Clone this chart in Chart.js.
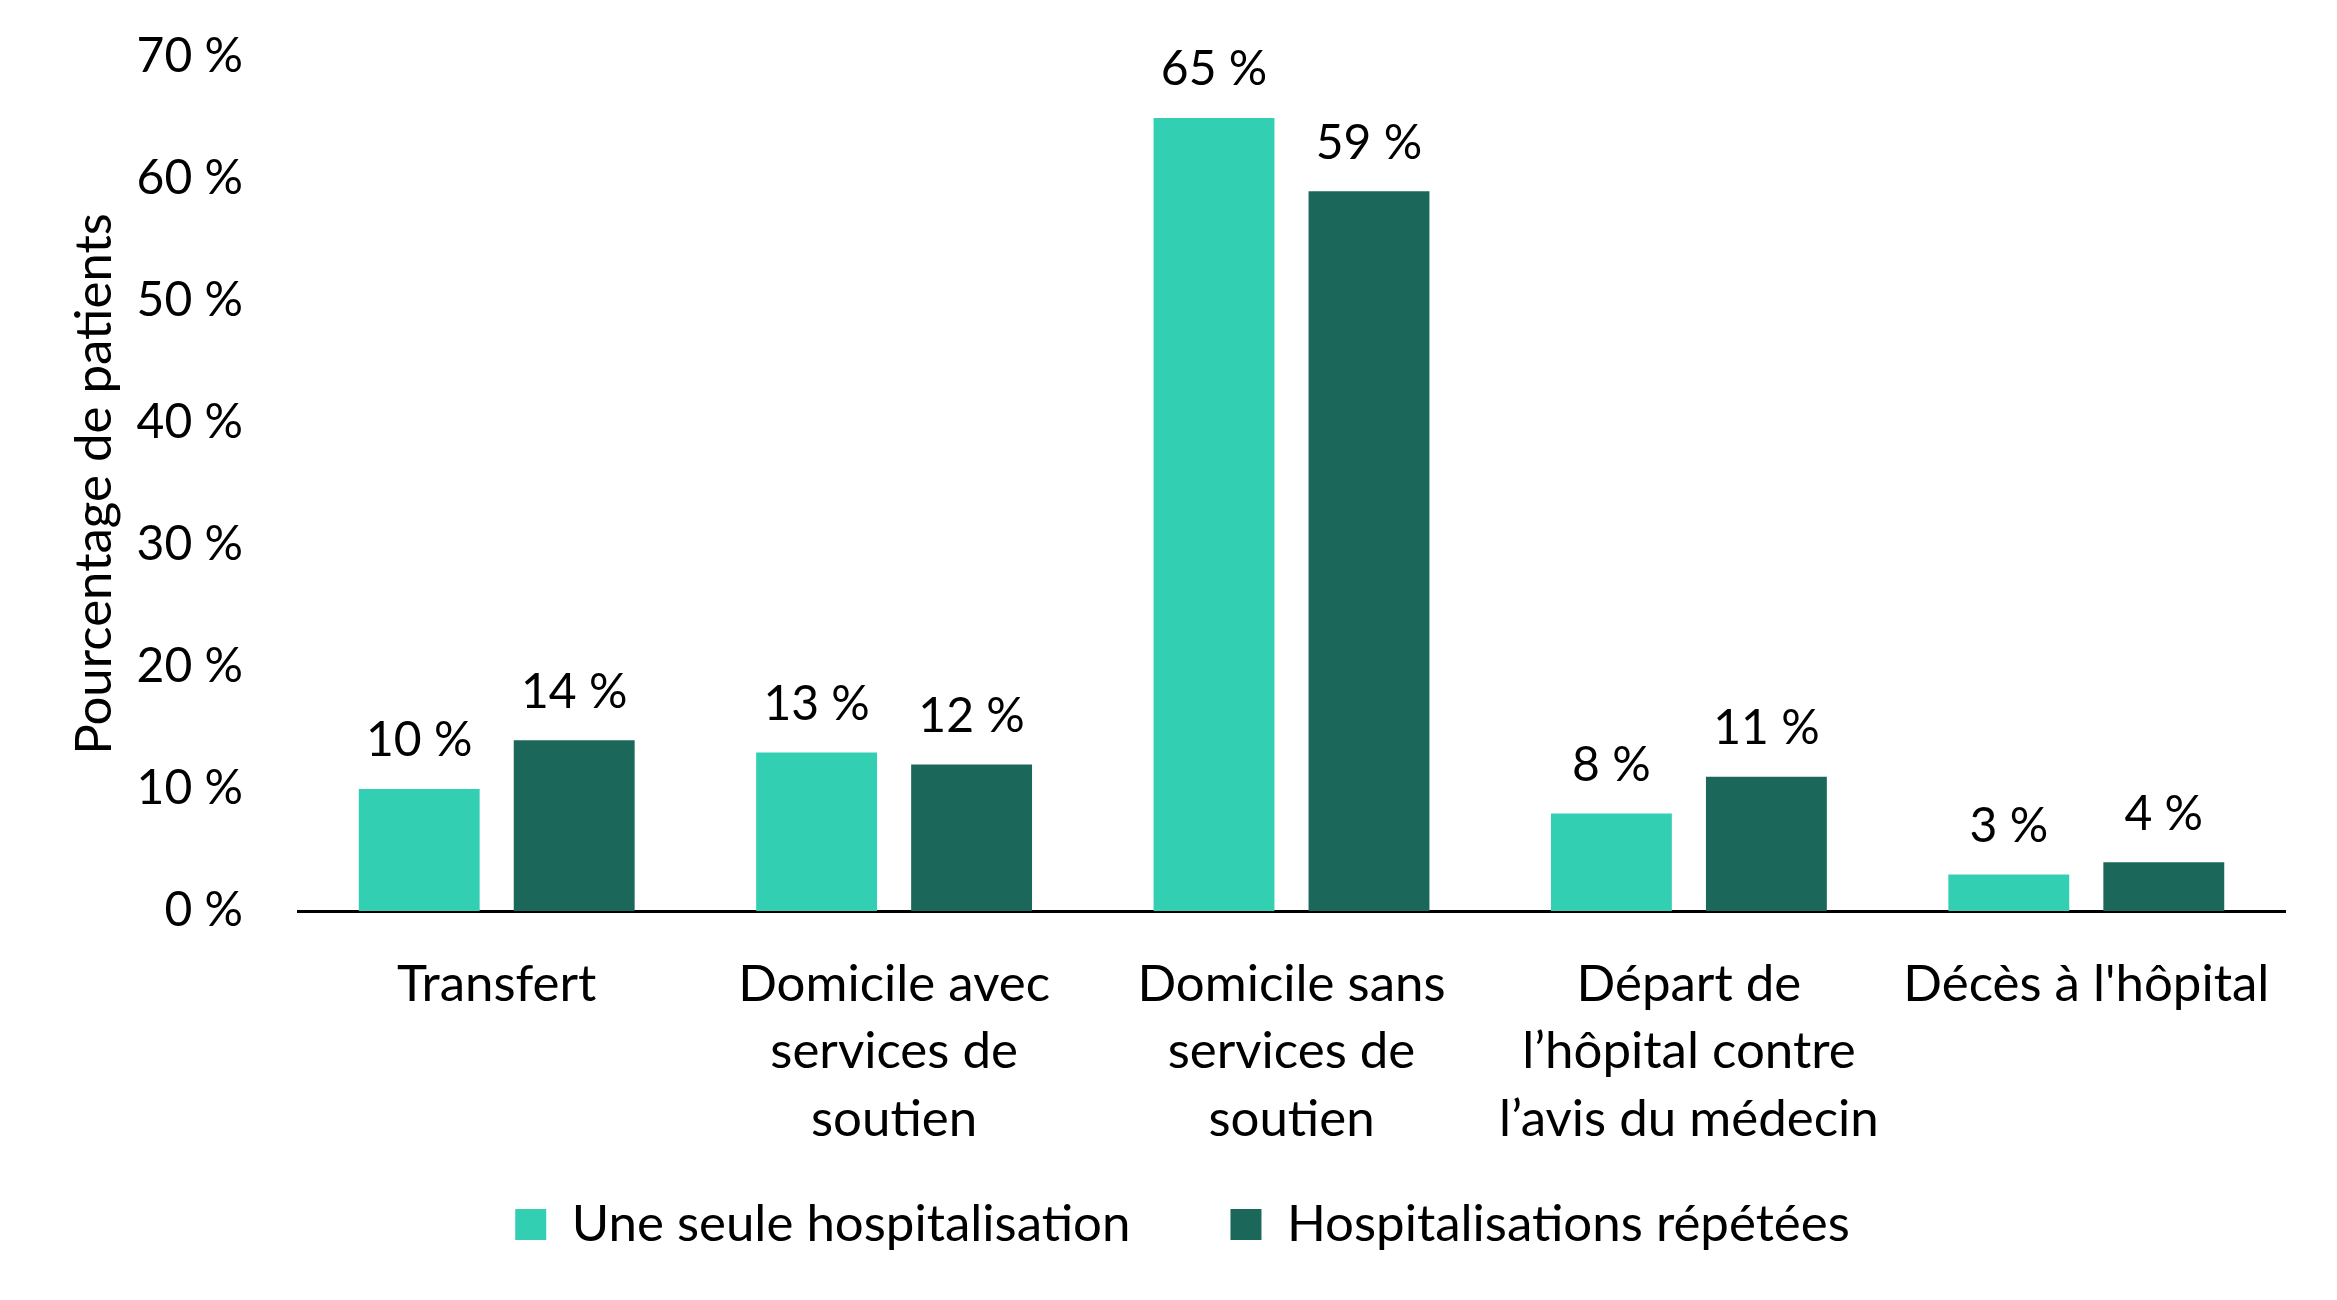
<!DOCTYPE html>
<html>
<head>
<meta charset="utf-8">
<script src="https://cdn.jsdelivr.net/npm/chart.js@4/dist/chart.umd.min.js"></script>
<style>
  html, body { margin: 0; padding: 0; background: #ffffff; }
  #wrap { width: 2337px; height: 1300px; }
</style>
</head>
<body>
<div id="wrap"><canvas id="c" width="2337" height="1300"></canvas></div>
<script>
const categories = [
  ['Transfert'],
  ['Domicile avec', 'services de', 'soutien'],
  ['Domicile sans', 'services de', 'soutien'],
  ['Départ de', 'l’hôpital contre', 'l’avis du médecin'],
  ['Décès à l\'hôpital']
];
const seriesNames = ['Une seule hospitalisation', 'Hospitalisations répétées'];
const singleValues = [10, 13, 65, 8, 3];
const repeatedValues = [14, 12, 59, 11, 4];
const yTicks = [0, 10, 20, 30, 40, 50, 60, 70];
const yTitle = 'Pourcentage de patients';

const FONT = 'Lato, "Open Sans", sans-serif';
const FS = 48;
const FL = 51;

const valueLabels = {
  id: 'valueLabels',
  afterDatasetsDraw(chart) {
    const ctx = chart.ctx;
    ctx.save();
    ctx.font = FS + 'px ' + FONT;
    ctx.fillStyle = '#000000';
    ctx.textAlign = 'center';
    ctx.textBaseline = 'middle';
    chart.data.datasets.forEach((ds, di) => {
      const meta = chart.getDatasetMeta(di);
      meta.data.forEach((el, i) => {
        ctx.fillText(ds.data[i] + ' %', el.x, el.y - 48);
      });
    });
    ctx.restore();
  }
};

// keep wide horizontal spacing between legend items while lifting/centring the row
const legendLift = {
  id: 'legendLift',
  afterLayout(chart) {
    const lg = chart.legend;
    if (lg) { lg.top -= 80; lg.bottom -= 80; lg.left += 40; lg.right += 40; }
  }
};

new Chart(document.getElementById('c'), {
  type: 'bar',
  data: {
    labels: categories,
    datasets: [
      { label: seriesNames[0], data: singleValues, backgroundColor: '#33CFB3',
        categoryPercentage: 0.78, barPercentage: 0.78 },
      { label: seriesNames[1], data: repeatedValues, backgroundColor: '#1B6759',
        categoryPercentage: 0.78, barPercentage: 0.78 }
    ]
  },
  options: {
    responsive: false,
    animation: false,
    devicePixelRatio: 1,
    layout: { padding: { left: 0, right: 52, top: 57, bottom: -40 } },
    plugins: {
      legend: {
        position: 'bottom',
        labels: {
          font: { family: FONT, size: FL },
          color: '#000000',
          boxWidth: 31,
          boxHeight: 31,
          padding: 100
        }
      },
      tooltip: { enabled: false }
    },
    scales: {
      x: {
        grid: { display: false, drawTicks: false },
        border: { display: true, color: '#000000', width: 3 },
        ticks: {
          font: { family: FONT, size: FL, lineHeight: 1.32 },
          color: '#000000',
          padding: 40,
          maxRotation: 0,
          autoSkip: false
        },
        afterFit(scale) { scale.height = 268; scale.paddingLeft = 0; scale.paddingRight = 0; }
      },
      y: {
        min: 0,
        max: 70,
        afterBuildTicks(scale) { scale.ticks = yTicks.map(v => ({ value: v })); },
        grid: { display: false, drawTicks: false },
        border: { display: false },
        ticks: {
          font: { family: FONT, size: FS },
          color: '#000000',
          padding: 55,
          callback: (v) => v + ' %'
        },
        title: {
          display: true,
          text: yTitle,
          font: { family: FONT, size: FL },
          color: '#000000',
          padding: { top: 64, bottom: 0 }
        },
        afterFit(scale) { scale.width = 298; scale.paddingTop = 0; scale.paddingBottom = 0; }
      }
    }
  },
  plugins: [valueLabels, legendLift]
});
</script>
</body>
</html>
